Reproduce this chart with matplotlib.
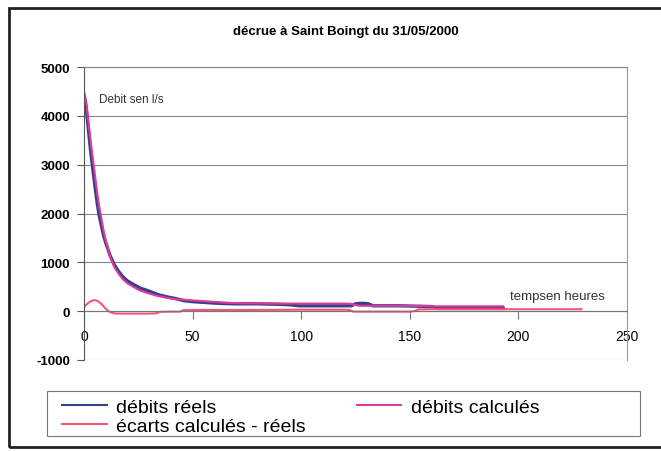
import matplotlib
matplotlib.use("Agg")
import matplotlib.pyplot as plt
from matplotlib.patches import Rectangle

plt.rcParams['font.family'] = ['Liberation Sans', 'DejaVu Sans']

# temps en heures
t_debits = [0, 1, 2, 3, 4, 5, 6, 7, 8, 9, 10, 11, 12, 14, 16, 18, 20, 23, 26, 30,
            34, 38, 42, 46, 50, 55, 60, 65, 70, 75, 80, 85, 90, 95, 99, 105, 110,
            115, 120, 123, 125, 127, 129, 131, 133, 140, 145, 150, 155, 160, 163,
            170, 175, 180, 185, 190, 193]
debits_reels = [4420, 4170, 3730, 3300, 2930, 2575, 2230, 1960, 1750, 1550, 1400,
                1270, 1140, 945, 810, 700, 620, 540, 470, 410, 340, 295, 260, 215,
                195, 180, 165, 155, 150, 150, 150, 145, 140, 130, 110, 110, 110,
                110, 110, 110, 150, 160, 160, 150, 110, 110, 110, 105, 100, 95,
                55, 55, 55, 55, 55, 55, 55]
debits_calcules = [4500, 4300, 3900, 3500, 3150, 2800, 2450, 2150, 1900, 1650, 1450,
                   1280, 1120, 900, 760, 650, 570, 490, 420, 360, 310, 275, 245,
                   235, 220, 205, 190, 175, 165, 160, 160, 155, 155, 155, 155, 155,
                   155, 155, 155, 150, 125, 110, 110, 110, 110, 110, 110, 105, 105,
                   100, 100, 100, 100, 100, 100, 100, 100]

t_ecarts = [0, 1, 2, 3, 4, 5, 6, 7, 8, 9, 10, 11, 12, 14, 16, 20, 25, 30, 33, 35,
            40, 44, 46, 50, 60, 80, 100, 120, 122, 124, 130, 140, 150, 152, 154,
            160, 180, 200, 215, 229]
ecarts = [80, 130, 170, 200, 220, 225, 215, 185, 150, 100, 50, 10, -20, -45, -50,
          -50, -50, -50, -45, -15, -10, -10, 20, 25, 25, 25, 30, 30, 25, -10, -10,
          -10, -10, 0, 35, 40, 40, 40, 40, 40]

yticks = [-1000, 0, 1000, 2000, 3000, 4000, 5000]
xticks = [0, 50, 100, 150, 200, 250]

W, H = 661, 452
fig = plt.figure(figsize=(W / 100, H / 100), dpi=100)
ax = fig.add_axes([84 / W, 1 - 361 / H, 543 / W, 293 / H])

# outer chart frame (cut on the right side like the scan)
fig.patches.append(Rectangle((9 / W, 1 - 448 / H), 700 / W, 439 / H,
                             transform=fig.transFigure, fill=False,
                             edgecolor='#222222', linewidth=2))
# legend box
fig.patches.append(Rectangle((47 / W, 1 - 437 / H), 593 / W, 45 / H,
                             transform=fig.transFigure, fill=False,
                             edgecolor='#777777', linewidth=0.8))

ax.plot(t_debits, debits_reels, color='#34418a', lw=2.4, label='débits réels')
ax.plot(t_debits, debits_calcules, color='#e2389e', lw=1.5, label='débits calculés')
ax.plot(t_ecarts, ecarts, color='#f2557a', lw=1.5, label='écarts calculés - réels')

ax.set_xlim(0, 250)
ax.set_ylim(-1000, 5000)
ax.set_xticks(xticks)
ax.set_yticks(yticks)
ax.set_yticklabels([str(v) for v in yticks], fontsize=9.5, fontweight='bold')
ax.set_xticklabels([str(v) for v in xticks], fontsize=9)
ax.yaxis.grid(True, color='#888888', lw=0.8)
ax.set_axisbelow(True)

ax.spines['bottom'].set_position(('data', 0))
ax.spines['bottom'].set_color('#777777')
ax.spines['left'].set_color('#555555')
ax.spines['right'].set_color('#999999')
ax.spines['top'].set_color('#8080a0')
ax.tick_params(axis='x', direction='out', length=6, color='#777777', pad=7)
ax.tick_params(axis='y', direction='out', length=5, color='#555555', pad=5)

fig.text(346 / W, 1 - 32 / H, 'décrue à Saint Boingt du 31/05/2000', fontsize=9.5,
         fontweight='bold', ha='center', va='center')
ax.text(7, 4350, 'Debit sen l/s', fontsize=8.5, color='#333333', va='center')
ax.text(196, 310, 'tempsen heures', fontsize=9.5, color='#333333', va='center')

h, l = ax.get_legend_handles_labels()
order = [0, 2, 1]
leg = fig.legend([h[i] for i in order], [l[i] for i in order], ncol=2,
                 loc='upper left', bbox_to_anchor=(62 / W, 1 - 399 / H),
                 fontsize=14, frameon=False, borderpad=0,
                 labelspacing=0.1, handlelength=2.3, handletextpad=0.5,
                 columnspacing=2.6, borderaxespad=0)
for line in leg.get_lines():
    line.set_linewidth(1.5)

fig.savefig('out.png', dpi=100)
